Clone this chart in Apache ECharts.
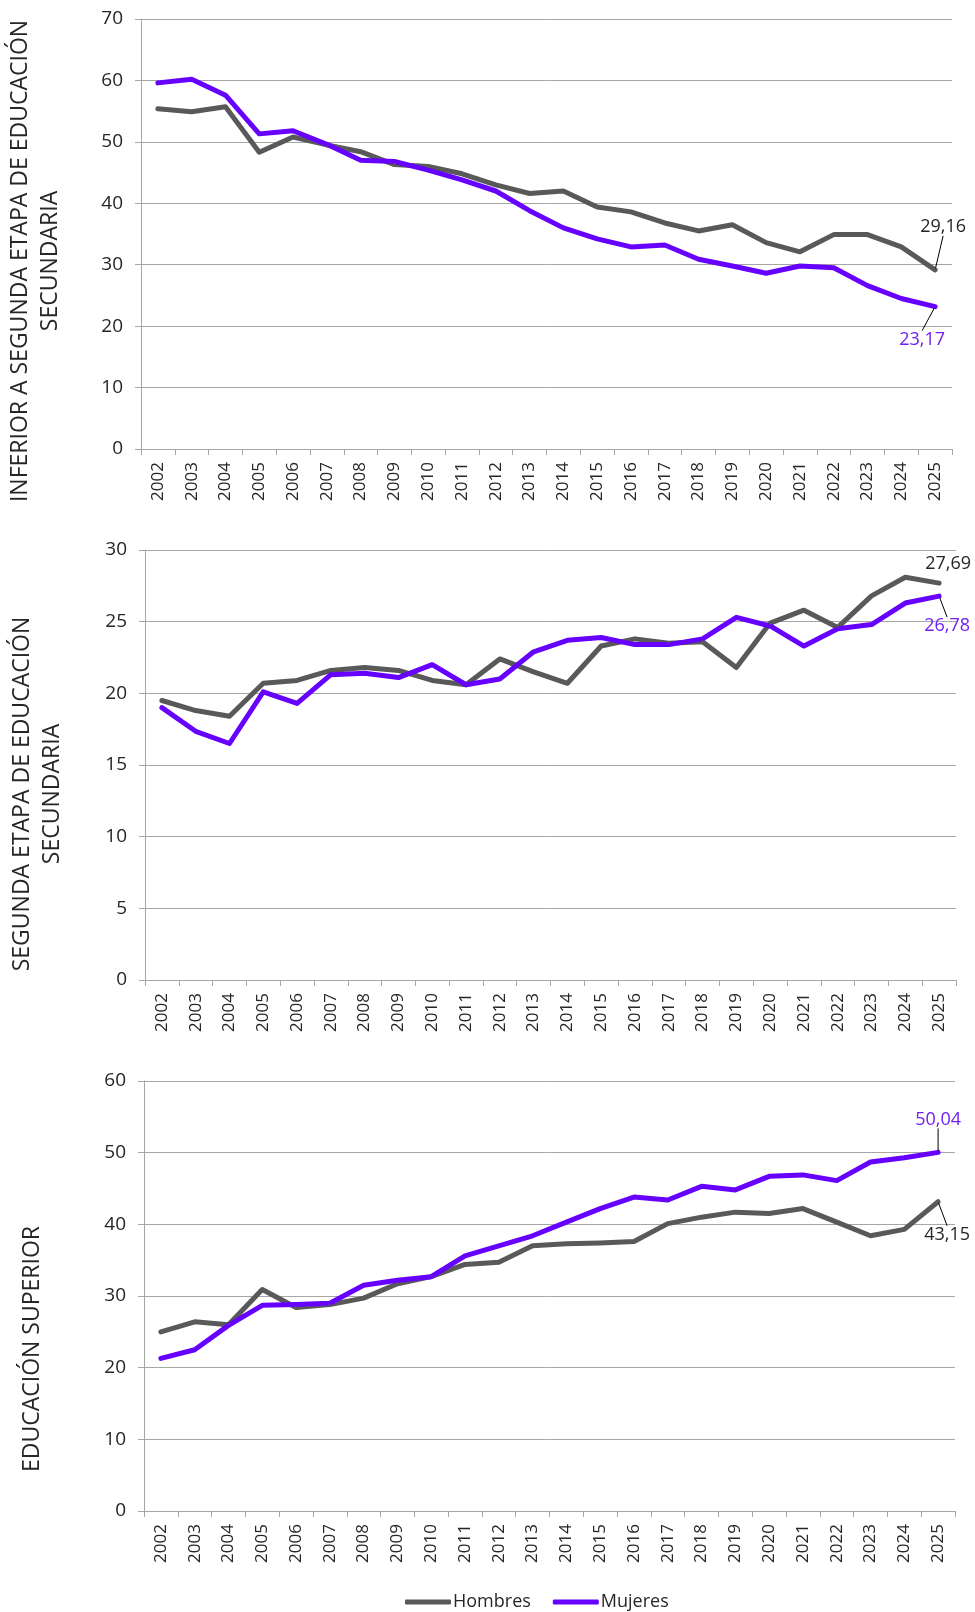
<!DOCTYPE html>
<html>
<head>
<meta charset="utf-8">
<script src="https://cdn.jsdelivr.net/npm/echarts@6/dist/echarts.min.js"></script>
<style>
  html, body { margin: 0; padding: 0; background: #fff; }
  #chart { width: 975px; height: 1612px; }
</style>
</head>
<body>
<div id="chart"></div>
<script>
// data
var years = ['2002','2003','2004','2005','2006','2007','2008','2009','2010','2011','2012','2013',
             '2014','2015','2016','2017','2018','2019','2020','2021','2022','2023','2024','2025'];

var hombresInf = [55.4, 54.9, 55.7, 48.3, 50.8, 49.5, 48.4, 46.3, 46.0, 44.8, 43.0, 41.6,
                  42.0, 39.4, 38.6, 36.8, 35.5, 36.5, 33.6, 32.1, 34.9, 34.9, 32.9, 29.16];
var mujeresInf = [59.6, 60.2, 57.6, 51.3, 51.8, 49.6, 47.0, 46.8, 45.4, 43.8, 42.0, 38.8,
                  36.0, 34.2, 32.9, 33.2, 30.9, 29.8, 28.6, 29.8, 29.5, 26.6, 24.5, 23.17];

var hombresSeg = [19.5, 18.8, 18.4, 20.7, 20.9, 21.6, 21.8, 21.6, 20.9, 20.6, 22.4, 21.5,
                  20.7, 23.3, 23.8, 23.5, 23.6, 21.8, 24.9, 25.8, 24.6, 26.8, 28.1, 27.69];
var mujeresSeg = [19.0, 17.35, 16.5, 20.1, 19.3, 21.3, 21.4, 21.1, 22.0, 20.6, 21.0, 22.9,
                  23.7, 23.9, 23.4, 23.4, 23.8, 25.3, 24.7, 23.3, 24.5, 24.8, 26.3, 26.78];

var hombresSup = [25.0, 26.4, 26.0, 30.9, 28.4, 28.8, 29.7, 31.7, 32.7, 34.4, 34.7, 37.0,
                  37.3, 37.4, 37.6, 40.1, 41.0, 41.7, 41.5, 42.2, 40.3, 38.4, 39.3, 43.15];
var mujeresSup = [21.3, 22.5, 25.9, 28.7, 28.8, 29.0, 31.5, 32.2, 32.7, 35.6, 37.0, 38.4,
                  40.3, 42.2, 43.8, 43.4, 45.3, 44.8, 46.7, 46.9, 46.1, 48.7, 49.3, 50.04];

var titles = ['INFERIOR A SEGUNDA ETAPA DE EDUCACIÓN\nSECUNDARIA',
              'SEGUNDA ETAPA DE EDUCACIÓN\nSECUNDARIA',
              'EDUCACIÓN SUPERIOR'];
var yMax = [70, 30, 60];
var yStep = [10, 5, 10];

var GRAY = '#595959';
var PURPLE = '#6600ff';
var FONT = '"Open Sans", sans-serif';

// panel boxes and where the end-value label sits relative to its point
var grids = [
  { left: 141, right: 23, top: 19,   height: 430 },
  { left: 145, right: 19, top: 550,  height: 430 },
  { left: 144, right: 20, top: 1081, height: 430 }
];
var titlePos = [[35, 261], [37, 794], [32, 1349]];
var labelShift = [[8, -43], [-13, 33], [9, -19], [8, 30], [9, 33], [0, -33]];
var labelGuide = [true, true, false, true, true, true];

function fmt(v) { return String(v).replace('.', ','); }

var chart = echarts.init(document.getElementById('chart'), null, { renderer: 'canvas' });

var xAxes = [], yAxes = [], series = [], graphics = [];
var pairs = [[hombresInf, mujeresInf], [hombresSeg, mujeresSeg], [hombresSup, mujeresSup]];

for (var i = 0; i < 3; i++) {
  xAxes.push({
    type: 'category', gridIndex: i, data: years, boundaryGap: true,
    axisLine: { lineStyle: { color: '#a6a6a6', width: 1 } },
    axisTick: { show: true, length: 6, lineStyle: { color: '#a6a6a6' } },
    axisLabel: { rotate: 90, margin: 13, fontSize: 17, color: '#262626', fontFamily: FONT }
  });
  yAxes.push({
    type: 'value', gridIndex: i, min: 0, max: yMax[i], interval: yStep[i],
    axisLine: { show: true, lineStyle: { color: '#a6a6a6', width: 1 } },
    axisTick: { show: true, length: 6, lineStyle: { color: '#a6a6a6' } },
    splitLine: { lineStyle: { color: '#a6a6a6', width: 1 } },
    axisLabel: { margin: 18, fontSize: 19, color: '#262626', fontFamily: FONT }
  });
  graphics.push({
    type: 'text', x: titlePos[i][0], y: titlePos[i][1], rotation: Math.PI / 2,
    style: {
      text: titles[i], align: 'center', verticalAlign: 'middle',
      fontSize: 23, lineHeight: 30, fontFamily: FONT, fill: '#262626'
    }
  });
  [GRAY, PURPLE].forEach(function (col, k) {
    var vals = pairs[i][k];
    var sIdx = series.length;
    var data = vals.map(function (v, j) {
      if (j !== vals.length - 1) return v;
      return {
        value: v,
        label: {
          show: true, position: 'inside', fontSize: 18, fontFamily: FONT,
          color: k === 0 ? '#262626' : '#7020f0',
          formatter: function (p) { return fmt(p.value); }
        }
      };
    });
    series.push({
      type: 'line', name: k === 0 ? 'Hombres' : 'Mujeres',
      xAxisIndex: i, yAxisIndex: i,
      data: data, color: col,
      showSymbol: true, symbol: 'circle', symbolSize: 3,
      lineStyle: { width: 5, color: col, cap: 'round', join: 'round' },
      itemStyle: { color: col },
      label: { show: false },
      labelLine: { show: labelGuide[sIdx], lineStyle: { color: '#000', width: 1 } },
      labelLayout: (function (sh) {
        return function () { return { dx: sh[0], dy: sh[1] }; };
      })(labelShift[sIdx]),
      emphasis: { disabled: true },
      animation: false
    });
  });
}

chart.setOption({
  animation: false,
  textStyle: { fontFamily: FONT },
  grid: grids,
  xAxis: xAxes,
  yAxis: yAxes,
  legend: {
    data: ['Hombres', 'Mujeres'],
    left: 400, top: 1588,
    icon: 'roundRect', itemWidth: 46, itemHeight: 5, itemGap: 22,
    textStyle: { fontSize: 18, color: '#262626', fontFamily: FONT, padding: [0, 0, 0, -3] }
  },
  graphic: graphics,
  series: series
});
</script>
</body>
</html>
